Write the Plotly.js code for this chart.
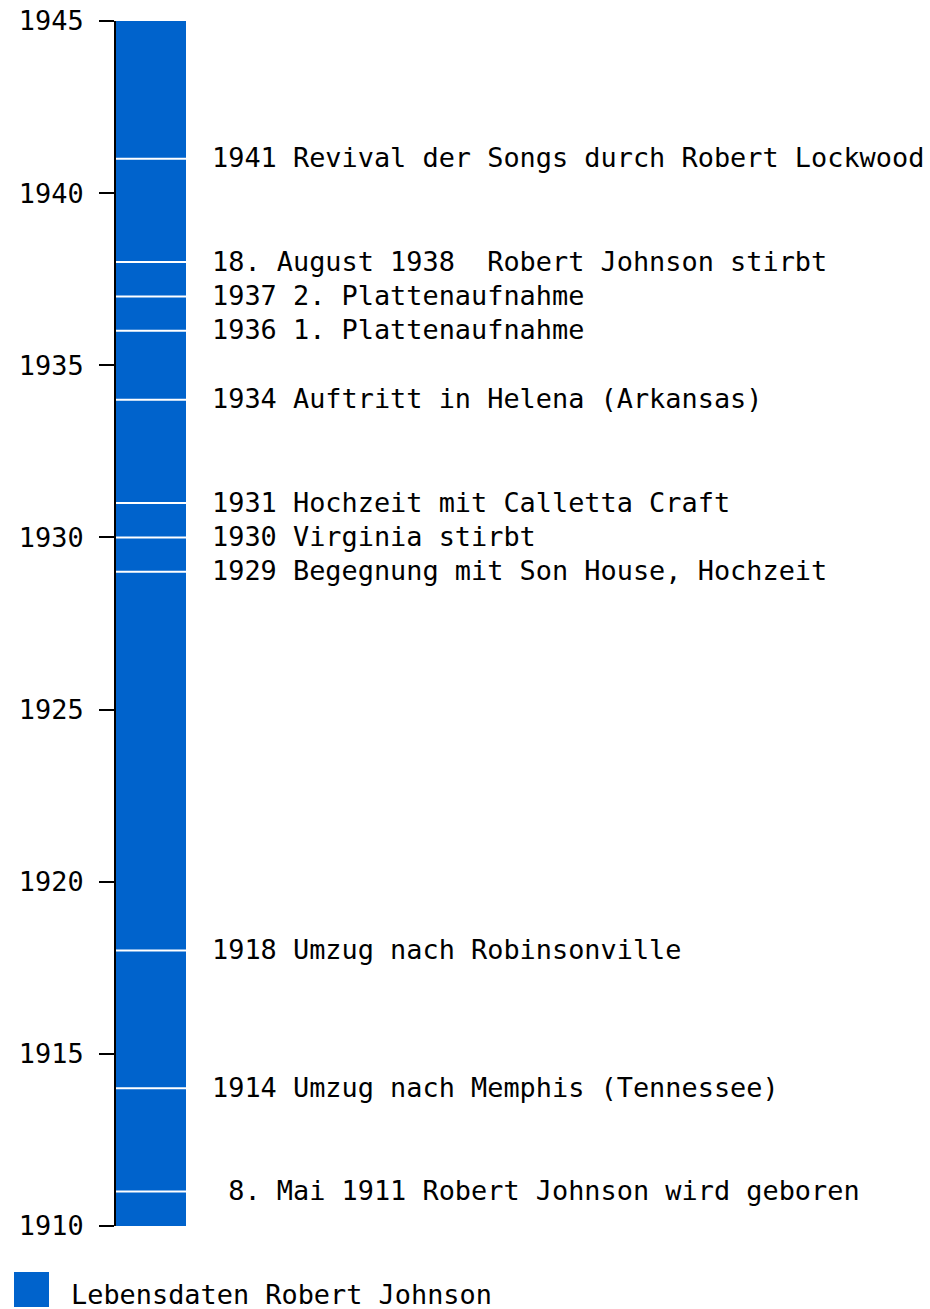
<!DOCTYPE html>
<html>
<head>
<meta charset="utf-8">
<script src="https://cdn.plot.ly/plotly-3.0.1.min.js"></script>
<style>html,body{margin:0;padding:0;background:#fff;}#chart{width:930px;height:1309px;}</style>
</head>
<body>
<div id="chart"></div>
<script>
// ---- data ----
var seriesName = "Lebensdaten Robert Johnson";
var barStart = [1910];
var barEnd = [1945];
var eventYears = [1941, 1938, 1937, 1936, 1934, 1931, 1930, 1929, 1918, 1914, 1911];
var eventLabels = [
  "1941 Revival der Songs durch Robert Lockwood",
  "18. August 1938  Robert Johnson stirbt",
  "1937 2. Plattenaufnahme",
  "1936 1. Plattenaufnahme",
  "1934 Auftritt in Helena (Arkansas)",
  "1931 Hochzeit mit Calletta Craft",
  "1930 Virginia stirbt",
  "1929 Begegnung mit Son House, Hochzeit",
  "1918 Umzug nach Robinsonville",
  "1914 Umzug nach Memphis (Tennessee)",
  " 8. Mai 1911 Robert Johnson wird geboren"
];
var yTicks = [1910, 1915, 1920, 1925, 1930, 1935, 1940, 1945];

// ---- chart ----
var FONT = "DejaVu Sans Mono, monospace";
var FS = 26.9;
var BLUE = "#0063cc";

var trace = {
  type: "bar",
  name: seriesName,
  x: [0.5],
  width: [1],
  base: barStart,
  y: barEnd.map(function (e, i) { return e - barStart[i]; }),
  marker: { color: BLUE, line: { width: 0 } },
  hoverinfo: "skip",
  showlegend: false
};

var shapes = eventYears.map(function (yr) {
  return { type: "line", xref: "x", yref: "y", x0: 0, x1: 1, y0: yr, y1: yr,
           line: { color: "#ffffff", width: 2 } };
});

var annotations = eventYears.map(function (yr, i) {
  return { xref: "x", yref: "y", x: 94 / 70, y: yr, xanchor: "left", yanchor: "middle",
           yshift: 1, showarrow: false,
           text: eventLabels[i].replace(/ /g, "\u00A0"),
           font: { family: FONT, size: FS, color: "#000" } };
});

// legend (manual, large square key)
shapes.push({ type: "rect", xref: "paper", yref: "paper",
  x0: (14 - 116) / 809, x1: (49 - 116) / 809,
  y0: (1226 - 1272) / 1205, y1: (1226 - 1307) / 1205,
  fillcolor: BLUE, line: { width: 0 } });
annotations.push({ xref: "paper", yref: "paper",
  x: (69 - 116) / 809, y: (1226 - 1294) / 1205, xanchor: "left", yanchor: "middle",
  showarrow: false, text: seriesName.replace(/ /g, "\u00A0"),
  font: { family: FONT, size: FS, color: "#000" } });

var layout = {
  width: 930, height: 1309,
  margin: { l: 116, r: 5, t: 21, b: 83, pad: 0 },
  paper_bgcolor: "#fff", plot_bgcolor: "#fff",
  showlegend: false,
  bargap: 0,
  xaxis: { range: [0, 809 / 70], visible: false, fixedrange: true },
  yaxis: {
    range: [1910, 1945],
    tickvals: yTicks,
    ticktext: yTicks.map(String),
    ticks: "outside", ticklen: 15, tickwidth: 2, tickcolor: "#000",
    ticklabelstandoff: 10,
    showline: true, linecolor: "#000", linewidth: 2,
    showgrid: false, zeroline: false,
    tickfont: { family: FONT, size: FS, color: "#000" }
  },
  shapes: shapes,
  annotations: annotations
};

Plotly.newPlot("chart", [trace], layout, { displayModeBar: false, staticPlot: true });
</script>
</body>
</html>
